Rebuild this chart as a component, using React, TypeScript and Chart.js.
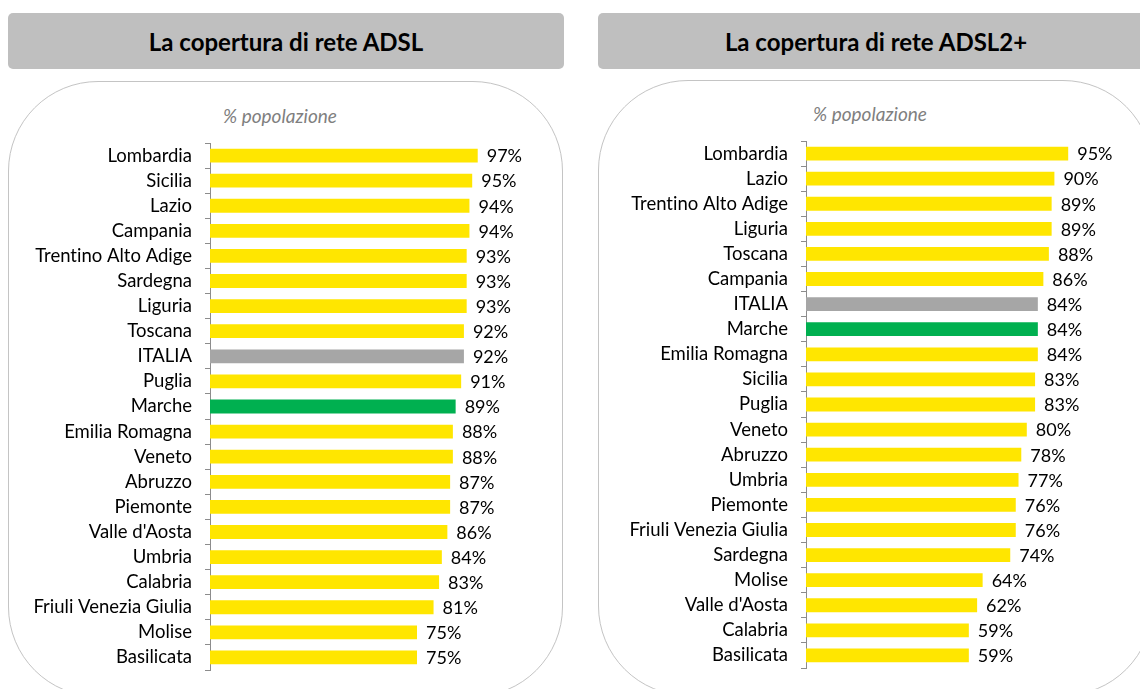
import React, { useEffect, useRef } from "react";
import { Chart, registerables } from "chart.js";

Chart.register(...registerables);

const adslCategories = [
  "Lombardia", "Sicilia", "Lazio", "Campania", "Trentino Alto Adige", "Sardegna", "Liguria",
  "Toscana", "ITALIA", "Puglia", "Marche", "Emilia Romagna", "Veneto", "Abruzzo", "Piemonte",
  "Valle d'Aosta", "Umbria", "Calabria", "Friuli Venezia Giulia", "Molise", "Basilicata",
];
const adslValues = [97, 95, 94, 94, 93, 93, 93, 92, 92, 91, 89, 88, 88, 87, 87, 86, 84, 83, 81, 75, 75];

const adsl2Categories = [
  "Lombardia", "Lazio", "Trentino Alto Adige", "Liguria", "Toscana", "Campania", "ITALIA",
  "Marche", "Emilia Romagna", "Sicilia", "Puglia", "Veneto", "Abruzzo", "Umbria", "Piemonte",
  "Friuli Venezia Giulia", "Sardegna", "Molise", "Valle d'Aosta", "Calabria", "Basilicata",
];
const adsl2Values = [95, 90, 89, 89, 88, 86, 84, 84, 84, 83, 83, 80, 78, 77, 76, 76, 74, 64, 62, 59, 59];

const FONT = "Lato, 'Open Sans', sans-serif";

const valueLabels = {
  id: "valueLabels",
  afterDatasetsDraw(chart: any) {
    const ctx = chart.ctx;
    const meta = chart.getDatasetMeta(0);
    const data = chart.data.datasets[0].data;
    ctx.save();
    ctx.font = `18px ${FONT}`;
    ctx.fillStyle = "#000";
    ctx.textAlign = "left";
    ctx.textBaseline = "middle";
    meta.data.forEach((bar: any, i: number) => {
      ctx.fillText(`${data[i]}%`, bar.x + 9, bar.y + 1);
    });
    ctx.restore();
  },
};

function barColor(name: string) {
  if (name === "ITALIA") return "#A6A6A6";
  if (name === "Marche") return "#00B050";
  return "#FFE600";
}

type PanelProps = {
  left: number;
  title: string;
  categories: string[];
  values: number[];
  axisWidth: number;
  shift: number;
};

const PANEL_W = 556;
const PLOT_W = 276;

function Panel({ left, title, categories, values, axisWidth, shift }: PanelProps) {
  const ref = useRef<HTMLCanvasElement>(null);
  useEffect(() => {
    const chart = new Chart(ref.current!, {
      type: "bar",
      data: {
        labels: categories,
        datasets: [
          {
            data: values,
            backgroundColor: categories.map(barColor),
            barPercentage: 0.55,
            categoryPercentage: 1,
          },
        ],
      },
      options: {
        indexAxis: "y",
        animation: false,
        responsive: false,
        events: [],
        layout: { padding: { top: 13, bottom: 10, left: 0, right: PANEL_W - axisWidth - PLOT_W } },
        plugins: { legend: { display: false }, tooltip: { enabled: false } },
        scales: {
          x: { display: false, min: 0, max: 100 },
          y: {
            afterFit(scale: any) {
              scale.width = axisWidth;
              scale.paddingTop = 0;
              scale.paddingBottom = 0;
            },
            grid: {
              drawOnChartArea: false,
              drawTicks: true,
              tickLength: 5,
              color: "#8C8C8C",
              offset: true,
            },
            border: { display: true, color: "#8C8C8C" },
            ticks: {
              color: "#000",
              padding: 13,
              autoSkip: false,
              font: { family: FONT, size: 18.5 },
              callback(this: any, value: any) {
                const label = String(this.getLabelForValue(value));
                return label.replace(/ti/g, "t\u200Ci");
              },
            },
          },
        },
      } as any,
      plugins: [valueLabels],
    });
    return () => chart.destroy();
  }, []);

  return (
    <>
      <div
        style={{
          position: "absolute",
          left,
          top: 13,
          width: PANEL_W,
          height: 56,
          background: "#BFBFBF",
          borderRadius: 5,
          display: "flex",
          alignItems: "center",
          justifyContent: "center",
          fontFamily: FONT,
          fontWeight: 700,
          fontSize: 24,
          color: "#000",
        }}
      >
        {title}
      </div>
      <div
        style={{
          position: "absolute",
          left,
          top: 81 + (shift < 0 ? -1 : 0),
          width: PANEL_W - 1,
          height: 616,
          border: "1px solid #C4C4C4",
          borderRadius: 90,
          boxSizing: "border-box",
        }}
      />
      <div
        style={{
          position: "absolute",
          left: left + 172,
          top: 104 + shift,
          width: 200,
          textAlign: "center",
          fontFamily: FONT,
          fontStyle: "italic",
          fontSize: 19,
          color: "#7F7F7F",
        }}
      >
        % popolazione
      </div>
      <canvas
        ref={ref}
        width={PANEL_W}
        height={550}
        style={{ position: "absolute", left, top: 130 + shift, width: PANEL_W, height: 550 }}
      />
    </>
  );
}

export default function App() {
  return (
    <div
      style={{
        position: "absolute",
        left: 0,
        top: 0,
        width: 1140,
        height: 689,
        overflow: "hidden",
        background: "#fff",
      }}
    >
      <Panel left={8} title="La copertura di rete ADSL" categories={adslCategories} values={adslValues} axisWidth={202} shift={0} />
      <Panel left={598} title="La copertura di rete ADSL2+" categories={adsl2Categories} values={adsl2Values} axisWidth={208} shift={-2} />
    </div>
  );
}
